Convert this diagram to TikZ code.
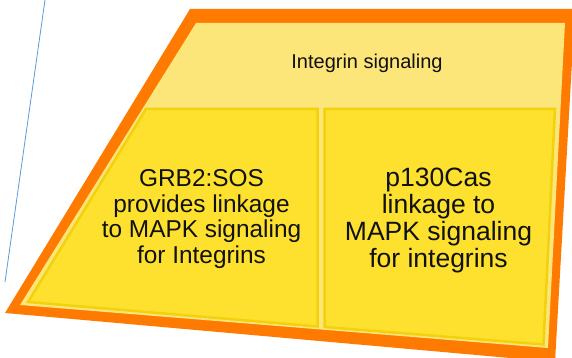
\documentclass[tikz,border=0pt]{standalone}
\usepackage{fontspec}
\setmainfont{Liberation Sans}
\definecolor{orangec}{HTML}{FF7A00}
\definecolor{lightyel}{HTML}{FCE67A}
\definecolor{boxyel}{HTML}{FDE12E}
\definecolor{boxedge}{HTML}{F3D10C}
\definecolor{bluel}{HTML}{5B9BD5}
\definecolor{txt}{HTML}{111111}
\begin{document}
\begin{tikzpicture}[x=1pt,y=-1pt,
  boxshape/.style={fill=boxyel,draw=boxedge,line width=2.5pt,line join=miter},
  lbl/.style={text=txt,align=center,inner sep=0pt}]
\useasboundingbox (0,0) rectangle (572,358);
% outer orange frame
\fill[orangec] (190,9) -- (575,9) -- (555,362) -- (5,313) -- cycle;
% inner light yellow
\fill[lightyel] (196,23) -- (565,23) -- (548,348) -- (20,305) -- cycle;
% two yellow boxes
\draw[boxshape] (146,109) -- (317.5,109) -- (317.5,326.5) -- (28,302) -- cycle;
\draw[boxshape] (324.5,109) -- (555,109) -- (543.5,344.5) -- (324.5,327) -- cycle;
% blue thin line
\coordinate (b1) at (45,0);
\coordinate (b2) at (5,282);
\draw[bluel,line width=0.8pt] (b1) -- (b2);
% labels
\node[lbl,anchor=base,font=\fontsize{20}{24}\selectfont] (top) at (367,69) {Integrin signaling};
\node[lbl,font=\fontsize{24.4}{25.5}\selectfont] (left) at (201.5,219) {GRB2:SOS\\provides linkage\\to MAPK signaling\\for Integrins};
\node[lbl,font=\fontsize{26.5}{27}\selectfont] (right) at (438.5,220) {p130Cas\\linkage to\\MAPK signaling\\for integrins};
\end{tikzpicture}
\end{document}
